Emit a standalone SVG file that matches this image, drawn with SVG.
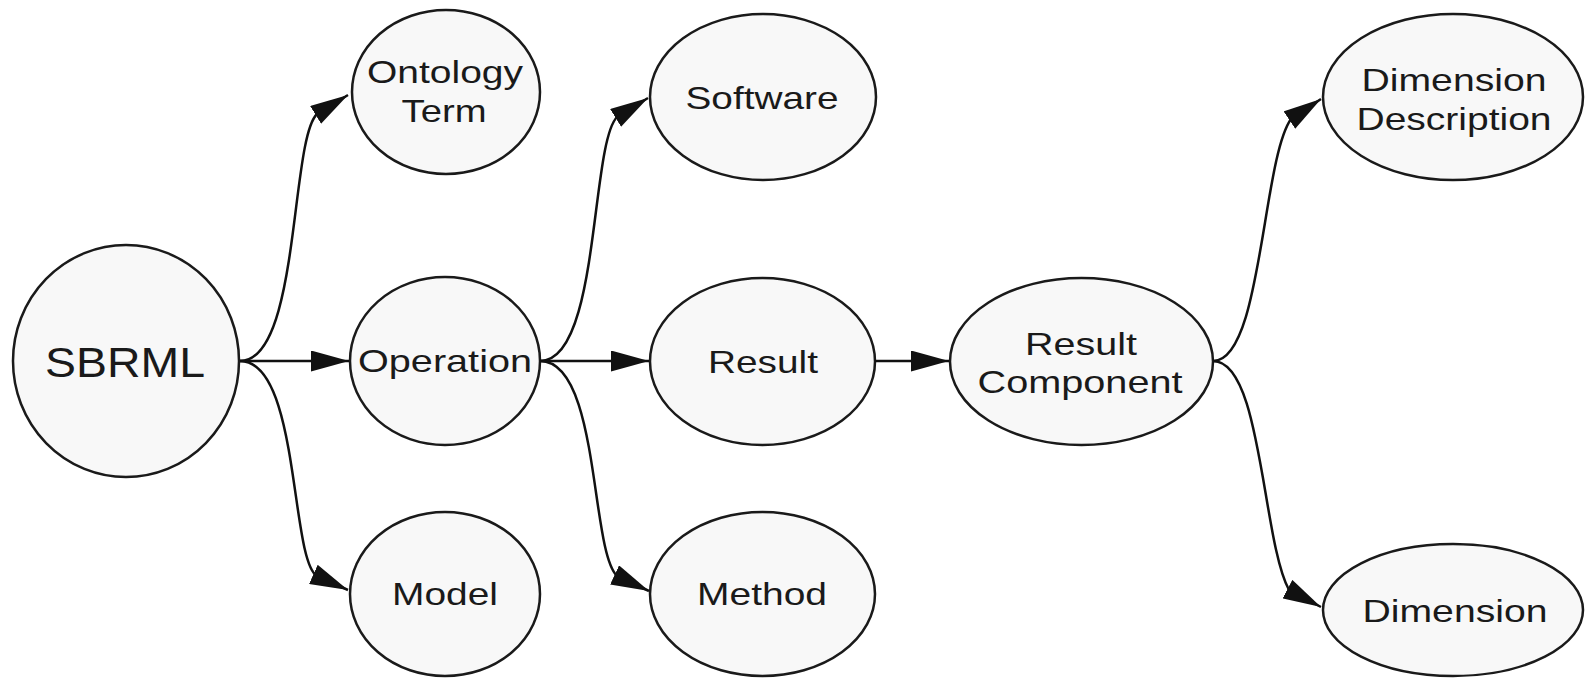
<svg xmlns="http://www.w3.org/2000/svg" width="1585" height="678" viewBox="0 0 1585 678">
<style>
.node ellipse{fill:#f8f8f8;stroke:#1a1a1a;stroke-width:2.5}
.node text{font-family:"Liberation Sans",Arial,sans-serif;font-size:32px;fill:#1a1a1a;text-anchor:middle}
.edges path{fill:none;stroke:#111;stroke-width:2.5;marker-end:url(#arr)}
</style>
<defs>
<marker id="arr" markerUnits="userSpaceOnUse" markerWidth="38" markerHeight="21" viewBox="0 0 38 21" refX="38" refY="10.5" orient="auto"><path d="M0,0 L38,10.5 L0,21 z" fill="#111"/></marker>
</defs>
<rect width="1585" height="678" fill="#fff"/>
<g id="sbrml" class="node"><ellipse cx="126" cy="361" rx="113" ry="116"/><text x="125" y="377" style="font-size:42px" textLength="160" lengthAdjust="spacingAndGlyphs">SBRML</text></g>
<g id="ontology-term" class="node"><ellipse cx="446" cy="92" rx="94" ry="82"/><text x="445" y="83" textLength="156" lengthAdjust="spacingAndGlyphs">Ontology</text><text x="444" y="122" textLength="85" lengthAdjust="spacingAndGlyphs">Term</text></g>
<g id="operation" class="node"><ellipse cx="445" cy="361" rx="95" ry="84"/><text x="445" y="372" textLength="174" lengthAdjust="spacingAndGlyphs">Operation</text></g>
<g id="model" class="node"><ellipse cx="445" cy="594" rx="95" ry="82"/><text x="445" y="605" textLength="106" lengthAdjust="spacingAndGlyphs">Model</text></g>
<g id="software" class="node"><ellipse cx="763" cy="97" rx="113" ry="83"/><text x="762" y="109" textLength="153" lengthAdjust="spacingAndGlyphs">Software</text></g>
<g id="result" class="node"><ellipse cx="762.5" cy="361.5" rx="112.5" ry="83.5"/><text x="763" y="373" textLength="110" lengthAdjust="spacingAndGlyphs">Result</text></g>
<g id="method" class="node"><ellipse cx="762.5" cy="594" rx="112.5" ry="82"/><text x="762" y="605" textLength="130" lengthAdjust="spacingAndGlyphs">Method</text></g>
<g id="result-component" class="node"><ellipse cx="1081.5" cy="361.5" rx="131.5" ry="83.5"/><text x="1081" y="355" textLength="112" lengthAdjust="spacingAndGlyphs">Result</text><text x="1080" y="393" textLength="205" lengthAdjust="spacingAndGlyphs">Component</text></g>
<g id="dimension-description" class="node"><ellipse cx="1453" cy="97" rx="130" ry="83"/><text x="1454" y="91" textLength="185" lengthAdjust="spacingAndGlyphs">Dimension</text><text x="1454" y="130" textLength="195" lengthAdjust="spacingAndGlyphs">Description</text></g>
<g id="dimension" class="node"><ellipse cx="1453" cy="610" rx="130" ry="66"/><text x="1455" y="622" textLength="185" lengthAdjust="spacingAndGlyphs">Dimension</text></g>
<g id="connectors" class="edges">
<path d="M240,361 C300,361 290,140 317,114 L348,95"/>
<path d="M240,361 L349,361"/>
<path d="M240,361 C300,361 290,560 317,576 L348,590"/>
<path d="M540,361 C600,361 590,145 617,117 L648,98"/>
<path d="M540,361 L649,361"/>
<path d="M540,361 C600,361 590,550 617,576 L649,591"/>
<path d="M875,361 L949,361"/>
<path d="M1213,361 C1262,361 1262,160 1291,119 L1321,99"/>
<path d="M1213,361 C1262,361 1262,540 1289,590 L1321,607"/>
</g>
</svg>
